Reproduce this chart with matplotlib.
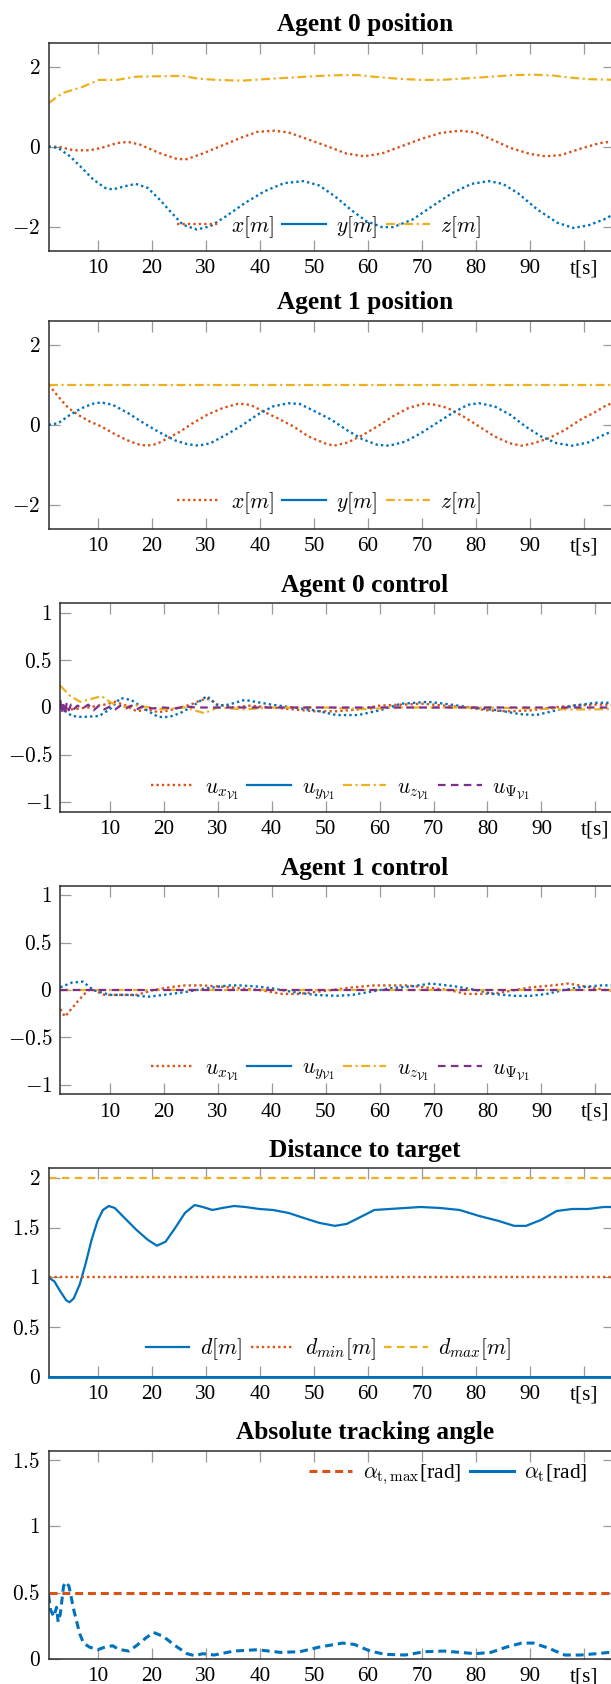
import numpy as np
import matplotlib
matplotlib.use('Agg')
import matplotlib.pyplot as plt
from matplotlib.lines import Line2D

plt.rcParams['mathtext.fontset'] = 'cm'
plt.rcParams['font.family'] = ['Liberation Serif', 'DejaVu Serif']

# ---------------- data ----------------
# Agent 0 position
a0_z_t = [0.83, 3.4, 7, 10.2, 13.5, 17, 20.7, 25.7, 28.6, 32, 36.6, 41, 46, 51, 55.3, 58.2, 61, 65.5,
          69.8, 73.4, 78.5, 82.8, 87, 90.7, 94.3, 97.2, 100.8, 106]
a0_z = [1.09, 1.34, 1.49, 1.67, 1.67, 1.75, 1.76, 1.77, 1.70, 1.67, 1.65, 1.69, 1.73, 1.77, 1.79, 1.79,
        1.75, 1.70, 1.67, 1.67, 1.71, 1.75, 1.79, 1.80, 1.78, 1.73, 1.69, 1.67]
a0_x_t = [0.83, 2.6, 5.5, 8.4, 10.6, 13.5, 15.6, 17.8, 21.4, 24.7, 26.5, 29.4, 33, 36.6, 39.5, 42.7, 45.2,
          48.8, 52.5, 56, 59.3, 62.6, 66.2, 69.8, 73.4, 77, 79.9, 82.8, 86.4, 90, 92.9, 95.8, 99.4, 103, 106]
a0_x = [0, 0, -0.09, -0.09, -0.03, 0.09, 0.12, 0.05, -0.16, -0.31, -0.31, -0.17, 0.03, 0.23, 0.37, 0.40,
        0.36, 0.19, 0.01, -0.17, -0.24, -0.17, 0.01, 0.19, 0.34, 0.40, 0.36, 0.19, -0.03, -0.18, -0.24,
        -0.21, -0.05, 0.09, 0.14]
a0_y_t = [0.83, 2.6, 4.8, 7, 9.1, 11.3, 12.7, 14.9, 17, 19.2, 21.4, 23.6, 25.7, 28.3, 30.8, 33.7, 37.3,
          40.9, 44.5, 48.1, 51, 53.9, 56.8, 59.7, 62.6, 64.7, 68.3, 71.9, 75.6, 79.2, 82.4, 85, 87.8, 91.4,
          95.1, 98, 100.8, 103.7, 106]
a0_y = [0, -0.03, -0.24, -0.53, -0.82, -1.03, -1.07, -0.99, -0.93, -1.03, -1.32, -1.65, -1.95, -2.07,
        -1.99, -1.74, -1.40, -1.11, -0.91, -0.86, -0.97, -1.24, -1.57, -1.86, -2.01, -2.01, -1.82, -1.49,
        -1.16, -0.93, -0.86, -0.93, -1.16, -1.57, -1.90, -2.03, -1.97, -1.82, -1.66]

# Agent 1 position
a1_x_t = [0.83, 1.6, 3.1, 4.5, 6.3, 8.5, 10.6, 12.8, 15, 17.2, 19, 20.8, 23, 25.2, 27.4, 30.2, 33.1, 36,
          38.2, 41, 43.2, 46.2, 49, 52, 53.7, 56.3, 59.1, 62, 64.6, 67.5, 70.4, 72.6, 74.8, 77.7, 80.6,
          83.5, 86.3, 88.5, 90.7, 93.6, 96.5, 99.4, 102.3, 104.3, 106]
a1_x = [1.0, 0.875, 0.63, 0.42, 0.25, 0.08, -0.04, -0.21, -0.36, -0.48, -0.52, -0.48, -0.33, -0.17, 0.03,
        0.25, 0.42, 0.53, 0.5, 0.31, 0.17, -0.04, -0.29, -0.46, -0.52, -0.44, -0.25, -0.02, 0.21, 0.42,
        0.53, 0.5, 0.42, 0.21, -0.04, -0.29, -0.46, -0.52, -0.46, -0.33, -0.13, 0.13, 0.33, 0.5, 0.55]
a1_y_t = [0.83, 2.6, 4.8, 7, 9.1, 10.6, 12.7, 15.6, 18.5, 21.4, 24.3, 26.5, 28.6, 30.8, 33.7, 36.6, 39.5,
          42.4, 45.3, 47.4, 50.3, 53.2, 56.1, 59, 61.8, 64, 66.9, 69.8, 72.7, 75.6, 78.5, 80.6, 83.5,
          86.4, 89.2, 92.1, 95, 97.9, 100.8, 103.7, 106]
a1_y = [0, 0.04, 0.25, 0.42, 0.53, 0.56, 0.5, 0.29, 0.04, -0.19, -0.39, -0.48, -0.52, -0.46, -0.25, -0.02,
        0.25, 0.46, 0.54, 0.52, 0.33, 0.13, -0.13, -0.36, -0.5, -0.52, -0.42, -0.21, 0.04, 0.29, 0.5,
        0.54, 0.46, 0.25, -0.04, -0.29, -0.46, -0.52, -0.44, -0.25, -0.12]
a1_z_t = [0.83, 106]
a1_z = [1.0, 1.0]

# Agent 0 control
c0_ux_t = [0.83, 3, 6, 9, 11, 13, 15, 17, 19, 21, 23, 25, 27, 28.5, 30, 33, 36, 40, 44, 48, 52, 56, 60,
           64, 68, 72, 76, 80, 84, 88, 92, 96, 100, 106]
c0_ux = [0.0, -0.02, 0.0, 0.03, 0.06, 0.02, -0.04, -0.02, -0.05, -0.03, 0.0, 0.03, 0.08, 0.09, 0.03, 0.0,
         0.02, 0.0, -0.02, -0.04, -0.04, -0.02, 0.02, 0.03, 0.04, 0.02, 0.0, -0.03, -0.04, -0.03, 0.0,
         0.02, 0.03, 0.03]
c0_uy_t = [0.83, 3, 5, 8, 10, 12, 14, 16, 19, 21, 23, 25, 28, 30, 32, 35, 40, 44, 48, 52, 56, 60, 64, 69,
           72, 77, 82, 86, 89, 92, 96, 100, 106]
c0_uy = [0.0, -0.09, -0.1, -0.09, -0.02, 0.1, 0.08, 0.0, -0.1, -0.1, -0.06, 0.0, 0.12, 0.02, 0.03, 0.08,
         0.03, 0.0, -0.03, -0.08, -0.08, -0.03, 0.04, 0.06, 0.04, 0.0, -0.03, -0.07, -0.08, -0.04, 0.02,
         0.05, 0.05]
c0_uz_t = [0.83, 2.5, 4.5, 6.5, 8.5, 10, 12, 15, 20, 24, 27.5, 30, 35, 40, 50, 58, 62, 80, 95, 100, 106]
c0_uz = [0.23, 0.13, 0.06, 0.09, 0.12, 0.06, 0.0, 0.02, -0.02, 0.0, -0.06, 0.0, -0.02, 0.0, 0.0, -0.02,
         0.0, 0.0, -0.02, -0.02, -0.01]
c0_upsi_t = [0.83, 1.1, 1.4, 1.7, 2.0, 2.4, 2.8, 3.3, 4, 5, 6, 7, 8, 9, 10, 11, 12, 13, 14, 15, 16, 18,
             20, 22, 24, 26, 28, 30, 35, 106]
c0_upsi = [0.08, -0.05, 0.06, -0.07, 0.04, -0.03, 0.03, -0.02, 0.02, -0.01, 0.03, -0.03, 0.02, -0.02,
           0.01, -0.02, 0.02, -0.01, 0.02, -0.02, 0.01, -0.01, 0.0, -0.01, 0.01, 0.0, 0.0, 0.0, 0.0, 0.0]

# Agent 1 control
c1_ux_t = [0.83, 1.7, 3, 4.5, 6, 7, 9, 12, 15, 18, 21, 24, 27, 30, 34, 38, 42, 45, 48, 51, 55, 59, 62,
           65, 70, 73, 76, 79, 82, 85, 88, 92, 95, 98, 102, 106]
c1_ux = [-0.2, -0.28, -0.19, -0.09, 0.0, 0.0, -0.05, -0.05, -0.05, 0.0, 0.03, 0.05, 0.05, 0.04, 0.02, 0.0,
         -0.04, -0.04, -0.02, 0.0, 0.03, 0.05, 0.05, 0.05, 0.02, 0.0, -0.04, -0.04, -0.03, 0.0, 0.03,
         0.05, 0.07, 0.04, 0.0, -0.01]
c1_uy_t = [0.83, 3, 5, 7, 10, 14, 17, 20, 24, 28, 32, 34, 37, 40, 44, 48, 52, 55, 58, 62, 66, 69.5, 74,
           78, 81, 85, 88, 91, 94, 97, 101, 106]
c1_uy = [0.03, 0.08, 0.09, 0.0, -0.05, -0.05, -0.07, -0.05, -0.02, 0.02, 0.05, 0.05, 0.04, 0.02, -0.02,
         -0.05, -0.06, -0.05, -0.02, 0.02, 0.04, 0.07, 0.04, 0.0, -0.04, -0.06, -0.06, -0.04, 0.0, 0.03,
         0.05, 0.05]
c1_uz_t = [0.83, 106]
c1_uz = [0.0, 0.0]
c1_upsi_t = [0.83, 106]
c1_upsi = [0.0, 0.0]

# Distance to target
d_t = [0.83, 1.9, 3, 4.1, 4.7, 5.5, 6.6, 7.7, 8.8, 9.9, 10.9, 12, 13.1, 14.9, 17.1, 19.2, 20.9, 22.5,
       24.3, 26.1, 27.9, 29.4, 31.2, 33, 35.2, 37.3, 39.9, 42.4, 45.3, 48.1, 51, 53.9, 56.1, 58.3, 61.2,
       64, 66.9, 69.8, 73.4, 77, 80.6, 84.2, 87.1, 89.3, 92.1, 95, 97.9, 100.8, 103.7, 106]
d_vals = [1.0, 0.96, 0.86, 0.77, 0.75, 0.79, 0.93, 1.14, 1.38, 1.57, 1.68, 1.72, 1.70, 1.6, 1.48, 1.38,
          1.32, 1.36, 1.5, 1.65, 1.73, 1.71, 1.68, 1.70, 1.72, 1.71, 1.69, 1.68, 1.65, 1.6, 1.55, 1.52,
          1.54, 1.6, 1.68, 1.69, 1.70, 1.71, 1.70, 1.68, 1.62, 1.57, 1.52, 1.52, 1.58, 1.67, 1.69, 1.69,
          1.71, 1.71]
d_min_value = 1.0
d_max_value = 2.0
d_floor_value = 0.0

# Absolute tracking angle
alpha_t_t = [0.83, 1.2, 1.8, 2.3, 2.6, 3, 3.6, 4, 4.6, 5.5, 6.6, 7.3, 8.4, 9.9, 11.3, 12.7, 13.5, 14.2,
             15.7, 17.1, 18.9, 20.3, 22.1, 24.3, 26.5, 27.9, 29.4, 31.5, 35.2, 39.5, 43.8, 47.4, 51, 55.3,
             57.5, 60.4, 63.2, 66.9, 70.5, 74.1, 77, 79.9, 82.8, 85.7, 88.5, 90.7, 93.6, 96.5, 99.4, 102.3,
             106]
alpha_t = [0.48, 0.37, 0.32, 0.39, 0.28, 0.34, 0.55, 0.58, 0.55, 0.37, 0.19, 0.12, 0.09, 0.07, 0.09, 0.10,
           0.08, 0.07, 0.06, 0.10, 0.16, 0.20, 0.17, 0.10, 0.04, 0.025, 0.04, 0.03, 0.06, 0.07, 0.05, 0.055,
           0.09, 0.12, 0.11, 0.06, 0.035, 0.03, 0.055, 0.06, 0.05, 0.04, 0.05, 0.09, 0.12, 0.12, 0.08, 0.03,
           0.03, 0.04, 0.055]
alpha_max_value = 0.5

x_ticks = [10, 20, 30, 40, 50, 60, 70, 80, 90, 100]
x_ticklabels = ['10', '20', '30', '40', '50', '60', '70', '80', '90', 't[s]']

titles = ['Agent 0 position', 'Agent 1 position', 'Agent 0 control', 'Agent 1 control',
          'Distance to target', 'Absolute tracking angle']

# ---------------- style ----------------
BLUE = '#0072BD'
ORANGE = '#D95319'
YELLOW = '#EDB120'
PURPLE = '#7E2F8E'
SPINE = '#2e2e2e'
TICKC = '#9a9a9a'

W, H, DPI = 611, 1684, 100
FS = 15.3
LFS = 15.6
TFS = 18.3

DOT = dict(ls=(0, (1, 1.3)), lw=1.7, dash_capstyle='butt')
DASHDOT = dict(ls=(0, (4, 1.6, 1, 1.6)), lw=1.6)
DASH = dict(ls=(0, (3.4, 2.4)), lw=1.6)
SOLID = dict(ls='-', lw=1.6)
THICKDASH = dict(ls=(0, (2.6, 1.6)), lw=2.2)

fig = plt.figure(figsize=(W / DPI, H / DPI), dpi=DPI)

XL = (0.85, 105.7)
PX_PER_UNIT = 5.396

# (left px, top px, bottom px)
layout = [(48.7, 42.7, 250.7), (48.7, 320.7, 529.0), (60.4, 603.3, 811.7),
          (60.4, 886.0, 1094.3), (48.7, 1168.3, 1376.7), (48.7, 1450.7, 1659.0)]


def make_axes(i):
    l, t, b = layout[i]
    r = l + (XL[1] - XL[0]) * PX_PER_UNIT
    ax = fig.add_axes([l / W, 1 - b / H, (r - l) / W, (b - t) / H])
    ax.set_xlim(*XL)
    ax.set_xticks(x_ticks)
    ax.set_xticklabels(x_ticklabels, fontsize=FS)
    ax.tick_params(direction='in', length=7.9, width=0.9, color=TICKC, top=True, right=True,
                   labelsize=FS, pad=6)
    ax.tick_params(axis='y', pad=6)
    for s in ax.spines.values():
        s.set_color(SPINE)
        s.set_linewidth(1.1)
    fig.text(365 / W, 1 - (t - 11.5) / H, titles[i], ha='center', va='baseline',
             fontsize=TFS, fontweight='bold')
    return ax


def set_y(ax, ticks, lim):
    ax.set_ylim(*lim)
    ax.set_yticks(ticks)
    labs = ['$%s$' % ('%g' % v) for v in ticks]
    ax.set_yticklabels(labs, fontsize=FS)


def legend(ax, handles, labels, loc, anchor):
    ax.legend(handles, labels, loc=loc, bbox_to_anchor=anchor, ncol=len(handles), frameon=False,
              fontsize=LFS, handlelength=2.0, handletextpad=0.5, columnspacing=0.4, borderpad=0,
              borderaxespad=0)


def h(color, style):
    return Line2D([], [], color=color, **style)


# Panel 1
ax = make_axes(0)
ax.plot(a0_x_t, a0_x, color=ORANGE, **DOT)
ax.plot(a0_y_t, a0_y, color=BLUE, **DOT)
ax.plot(a0_z_t, a0_z, color=YELLOW, **DASHDOT)
set_y(ax, [-2, 0, 2], (-2.6, 2.6))
legend(ax, [h(ORANGE, DOT), h(BLUE, SOLID), h(YELLOW, DASHDOT)],
       ['$x[m]$', '$y[m]$', '$z[m]$'], 'center', (0.495, 0.115))

# Panel 2
ax = make_axes(1)
ax.plot(a1_x_t, a1_x, color=ORANGE, **DOT)
ax.plot(a1_y_t, a1_y, color=BLUE, **DOT)
ax.plot(a1_z_t, a1_z, color=YELLOW, **DASHDOT)
set_y(ax, [-2, 0, 2], (-2.6, 2.6))
legend(ax, [h(ORANGE, DOT), h(BLUE, SOLID), h(YELLOW, DASHDOT)],
       ['$x[m]$', '$y[m]$', '$z[m]$'], 'center', (0.495, 0.125))

ulabels = [r'$u_{x_{\mathcal{V}1}}$', r'$u_{y_{\mathcal{V}1}}$', r'$u_{z_{\mathcal{V}1}}$',
           r'$u_{\Psi_{\mathcal{V}1}}$']

# Panel 3
ax = make_axes(2)
ax.plot(c0_ux_t, c0_ux, color=ORANGE, **DOT)
ax.plot(c0_uy_t, c0_uy, color=BLUE, **DOT)
ax.plot(c0_uz_t, c0_uz, color=YELLOW, **DASHDOT)
ax.plot(c0_upsi_t, c0_upsi, color=PURPLE, **DASH)
set_y(ax, [-1, -0.5, 0, 0.5, 1], (-1.1, 1.1))
legend(ax, [h(ORANGE, DOT), h(BLUE, SOLID), h(YELLOW, DASHDOT), h(PURPLE, DASH)],
       ulabels, 'center', (0.495, 0.105))

# Panel 4
ax = make_axes(3)
ax.plot(c1_ux_t, c1_ux, color=ORANGE, **DOT)
ax.plot(c1_uy_t, c1_uy, color=BLUE, **DOT)
ax.plot(c1_uz_t, c1_uz, color=YELLOW, **DASHDOT)
ax.plot(c1_upsi_t, c1_upsi, color=PURPLE, **DASH)
set_y(ax, [-1, -0.5, 0, 0.5, 1], (-1.1, 1.1))
legend(ax, [h(ORANGE, DOT), h(BLUE, SOLID), h(YELLOW, DASHDOT), h(PURPLE, DASH)],
       ulabels, 'center', (0.495, 0.115))

# Panel 5
ax = make_axes(4)
ax.plot(d_t, d_vals, color=BLUE, **SOLID)
ax.axhline(d_min_value, color=ORANGE, **DOT)
ax.axhline(d_max_value, color=YELLOW, **DASH)
ax.axhline(d_floor_value, color=BLUE, lw=2.0, clip_on=False, zorder=5)
set_y(ax, [0, 0.5, 1, 1.5, 2], (0, 2.1))
legend(ax, [h(BLUE, SOLID), h(ORANGE, DOT), h(YELLOW, DASH)],
       ['$d[m]$', '$d_{min}[m]$', '$d_{max}[m]$'], 'center', (0.495, 0.13))

# Panel 6
ax = make_axes(5)
ax.axhline(alpha_max_value, color=ORANGE, **THICKDASH)
ax.plot(alpha_t_t, alpha_t, color=BLUE, **THICKDASH)
set_y(ax, [0, 0.5, 1, 1.5], (0, np.pi / 2))
legend(ax, [h(ORANGE, THICKDASH), h(BLUE, dict(ls='-', lw=2.2))],
       [r'$\alpha_{\mathrm{t,max}}$[rad]', r'$\alpha_{\mathrm{t}}$[rad]'], 'center right', (0.953, 0.883))

fig.savefig('out.png', dpi=DPI)
